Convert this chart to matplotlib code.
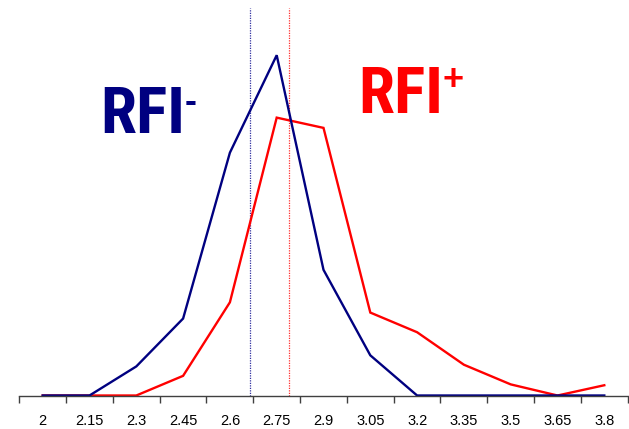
import numpy as np
import matplotlib
matplotlib.use('Agg')
import matplotlib.pyplot as plt

# categories on the x axis
bins = [2, 2.15, 2.3, 2.45, 2.6, 2.75, 2.9, 3.05, 3.2, 3.35, 3.5, 3.65, 3.8]
labels = ['2', '2.15', '2.3', '2.45', '2.6', '2.75', '2.9', '3.05', '3.2',
          '3.35', '3.5', '3.65', '3.8']

# frequency (%) per bin
rfi_neg = [0, 0, 3.4, 9.0, 28.4, 39.8, 14.7, 4.7, 0, 0, 0, 0, 0]
rfi_pos = [0, 0, 0, 2.3, 10.9, 32.5, 31.3, 9.7, 7.4, 3.6, 1.3, 0, 1.2]

# group means
mean_neg = 2.665
mean_pos = 2.79

W, H = 629, 429
fig = plt.figure(figsize=(W / 100, H / 100), dpi=100)

# pixel layout
x0_px = 42.7       # centre of first bin
step_px = 46.8     # width of one bin
left_px = x0_px - step_px / 2
base_px = 395.5
top_px = 8
ax = fig.add_axes([left_px / W, 1 - base_px / H, (W - left_px) / W, (base_px - top_px) / H])

step = 0.15
xmin = bins[0] - step / 2
xmax = xmin + (W - left_px) / step_px * step
ax.set_xlim(xmin, xmax)
ax.set_ylim(0, (base_px - top_px) / 8.55)

ax.axvline(mean_neg, color='#3030a0', lw=0.9, ls=(0, (1, 1)))
ax.axvline(mean_pos, color='#ff3030', lw=0.9, ls=(0, (1, 1)))

ax.plot(bins, rfi_pos, color='#ff0000', lw=1.7, solid_joinstyle='miter', clip_on=False)
ax.plot(bins, rfi_neg, color='#000080', lw=1.7, solid_joinstyle='miter', clip_on=False)

for s in ['top', 'right', 'left']:
    ax.spines[s].set_visible(False)
ax.spines['bottom'].set_color('#404040')
ax.spines['bottom'].set_linewidth(1.0)
ax.spines['bottom'].set_bounds(xmin, xmin + 13 * step)

ax.set_yticks([])
edges = xmin + step * np.arange(14)
ax.set_xticks(edges)
ax.set_xticklabels([])
ax.set_xticks(bins, minor=True)
ax.set_xticklabels(labels, minor=True, fontsize=10.5, family='Liberation Sans')
ax.tick_params(axis='x', which='major', length=5, width=1, color='#404040')
ax.tick_params(axis='x', which='minor', length=0, pad=13)

big = dict(fontsize=47, fontweight='bold', family='Roboto Condensed')
small = dict(fontsize=26, fontweight='bold', family='Liberation Sans')
fig.text(100 / W, 1 - 133.3 / H, 'RFI', color='#000080', ha='left', va='baseline', **big)
fig.text(185 / W, 1 - 112 / H, '-', color='#000080', ha='left', va='baseline', **small)
fig.text(358 / W, 1 - 112.7 / H, 'RFI', color='#ff0000', ha='left', va='baseline', **big)
fig.text(442 / W, 1 - 90 / H, '+', color='#ff0000', ha='left', va='baseline', **small)

fig.savefig('out.png', dpi=100)
